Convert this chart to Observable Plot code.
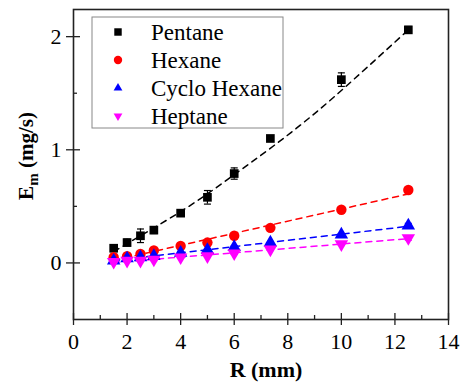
<!DOCTYPE html>
<html><head><meta charset="utf-8">
<script src="https://cdn.jsdelivr.net/npm/d3@7"></script>
<script src="https://cdn.jsdelivr.net/npm/@observablehq/plot@0.6"></script>
<style>
body{margin:0;background:#fff;}
#chart{position:relative;width:466px;height:384px;}
#chart svg text{font-family:'Liberation Serif','Times New Roman',Times,serif !important;}
</style>
</head><body><div id="chart"></div>
<script>
// ---- data ----
const R = [1.5, 2, 2.5, 3, 4, 5, 6, 7.35, 10, 12.5];
const pentane      = [0.13, 0.18, 0.24, 0.29, 0.44, 0.58, 0.79, 1.10, 1.62, 2.06];
const pentaneErr   = [0.03, 0.03, 0.06, 0.03, 0.02, 0.06, 0.05, 0.02, 0.06, 0.03];
const hexane       = [0.05, 0.06, 0.08, 0.11, 0.15, 0.18, 0.24, 0.31, 0.47, 0.645];
const hexaneErr    = [0.01, 0.01, 0.01, 0.01, 0.01, 0.01, 0.01, 0.01, 0.01, 0.01];
const cyclo        = [0.02, 0.04, 0.05, 0.06, 0.09, 0.115, 0.14, 0.18, 0.25, 0.33];
const cycloErr     = [0.01, 0.01, 0.01, 0.01, 0.01, 0.01, 0.01, 0.01, 0.01, 0.02];
const heptane      = [0.01, 0.02, 0.02, 0.03, 0.05, 0.06, 0.085, 0.12, 0.165, 0.22];
const heptaneErr   = [0.01, 0.01, 0.01, 0.01, 0.01, 0.01, 0.01, 0.01, 0.01, 0.02];
// dashed fit curve for Pentane
const pentaneFitR  = [1.5, 3, 4.5, 6, 7.5, 9, 10.5, 12.5];
const pentaneFitEm = [0.10, 0.31, 0.53, 0.78, 1.04, 1.32, 1.63, 2.06];
const seriesNames = ["Pentane", "Hexane", "Cyclo Hexane", "Heptane"];
const xTicks = [0, 2, 4, 6, 8, 10, 12, 14];
const xMinor = [1, 3, 5, 7, 9, 11, 13];
const yTicks = [0, 1, 2];
const yMinor = [0.5, 1.5];

// ---- styling per series ----
const values = [pentane, hexane, cyclo, heptane];
const errs = [pentaneErr, hexaneErr, cycloErr, heptaneErr];
const colors = ["#000000", "#ff0000", "#0000ff", "#ff00ff"];
const symbols = ["square", "circle", "triangle", "triangle"];
const rotates = [0, 0, 0, 180];
const radii = [4.9, 5.2, 5, 5];

const rows = seriesNames.map((name, k) =>
  R.map((x, i) => ({series: name, R: x, Em: values[k][i], err: errs[k][i]})));
const fitRows = pentaneFitR.map((x, i) => ({R: x, Em: pentaneFitEm[i]}));

const cap = {draw(ctx) { ctx.moveTo(-3.5, 0); ctx.lineTo(3.5, 0); }};
const FONT = "'Liberation Serif','Times New Roman',Times,serif";
const fmt = d => String(d);

const marks = [];
// fit lines
marks.push(Plot.line(fitRows, {x: "R", y: "Em", stroke: colors[0], strokeWidth: 1.5,
  strokeDasharray: "6,5", curve: "natural"}));
for (let k = 1; k < 4; k++) {
  marks.push(Plot.linearRegressionY(rows[k], {x: "R", y: "Em", stroke: colors[k],
    strokeWidth: 1.5, strokeDasharray: "6,5", ci: 0}));
}
// error bars + markers
for (let k = 0; k < 4; k++) {
  marks.push(Plot.ruleX(rows[k], {x: "R", y1: d => d.Em - d.err, y2: d => d.Em + d.err,
    stroke: colors[k], strokeWidth: 1.2}));
  marks.push(Plot.dot(rows[k], {x: "R", y: d => d.Em - d.err, symbol: cap, stroke: colors[k], strokeWidth: 1.2}));
  marks.push(Plot.dot(rows[k], {x: "R", y: d => d.Em + d.err, symbol: cap, stroke: colors[k], strokeWidth: 1.2}));
  marks.push(Plot.dot(rows[k], {x: "R", y: "Em", symbol: symbols[k], r: radii[k],
    fill: colors[k], stroke: "none", rotate: rotates[k]}));
}
// axes
marks.push(
  Plot.axisX({ticks: xTicks, tickSize: 6, tickPadding: 8, tickFormat: fmt, label: null, fontSize: 22, fontFamily: FONT, fontVariant: "normal", stroke: "#222", strokeWidth: 1.3}),
  Plot.axisX({ticks: xTicks, tickSize: 6, dy: -6, tickFormat: () => "", label: null, stroke: "#222", strokeWidth: 1.3}),
  Plot.axisX({ticks: xMinor, tickSize: 4, dy: -4, tickFormat: () => "", label: null, stroke: "#222", strokeWidth: 1.3}),
  Plot.axisY({ticks: yTicks, tickSize: 7, tickPadding: 5, tickFormat: fmt, label: null, fontSize: 22, fontFamily: FONT, fontVariant: "normal", stroke: "#222", strokeWidth: 1.3}),
  Plot.axisY({ticks: yTicks, tickSize: 7, dx: 7, tickFormat: () => "", label: null, stroke: "#222", strokeWidth: 1.3}),
  Plot.axisY({ticks: yMinor, tickSize: 4, dx: 4, tickFormat: () => "", label: null, stroke: "#222", strokeWidth: 1.3}),
  Plot.frame({stroke: "#222", strokeWidth: 1.6})
);

const chart = Plot.plot({
  width: 466, height: 384,
  marginLeft: 73, marginRight: 18, marginTop: 9, marginBottom: 65,
  x: {domain: [0, 14]},
  y: {domain: [-0.5, 2.24]},
  style: {fontFamily: FONT, fontSize: "22px", color: "#000", background: "#fff", overflow: "visible"},
  marks
});
document.getElementById("chart").appendChild(chart);

// axis titles
const svg = d3.select(chart);
svg.append("text").attr("x", 266).attr("y", 377).attr("text-anchor", "middle")
  .attr("font-weight", "bold").attr("font-size", 22).attr("fill", "#000")
  .text("R (mm)");
const yl = svg.append("text").attr("transform", "translate(33,156) rotate(-90)")
  .attr("text-anchor", "middle").attr("font-weight", "bold")
  .attr("font-size", 21).attr("fill", "#000");
yl.append("tspan").text("E");
yl.append("tspan").attr("font-size", 15).attr("dy", 5).text("m");
yl.append("tspan").attr("dy", -5).text(" (mg/s)");

// legend
const lg = svg.append("g").attr("transform", "translate(92,17)");
lg.append("rect").attr("width", 191).attr("height", 111).attr("fill", "#fff")
  .attr("stroke", "#888").attr("stroke-width", 1);
seriesNames.forEach((name, k) => {
  const cy = 15 + 28 * k;
  const sym = {square: d3.symbolSquare, circle: d3.symbolCircle, triangle: d3.symbolTriangle2}[symbols[k]];
  lg.append("path").attr("d", d3.symbol(sym, Math.PI * 4.2 * 4.2)())
    .attr("transform", `translate(26,${cy}) rotate(${rotates[k]})`).attr("fill", colors[k]);
  lg.append("text").attr("x", 59).attr("y", cy).attr("dy", "0.35em").attr("text-anchor", "start")
    .attr("font-size", 23).attr("fill", "#000").text(name);
});
</script>
</body></html>
